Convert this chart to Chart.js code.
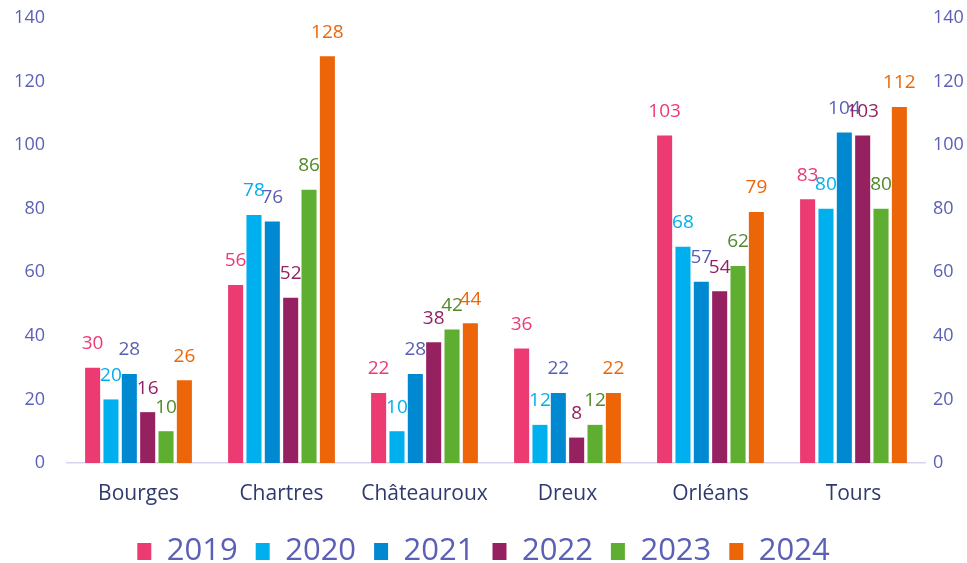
<!DOCTYPE html>
<html>
<head>
<meta charset="utf-8">
<script src="https://cdn.jsdelivr.net/npm/chart.js@4"></script>
<style>
  html, body { margin: 0; padding: 0; background: #fff; }
  #wrap { width: 967px; height: 563px; }
</style>
</head>
<body>
<div id="wrap"><canvas id="myChart"></canvas></div>
<script>
const cities = ["Bourges", "Chartres", "Châteauroux", "Dreux", "Orléans", "Tours"];
const years = ["2019", "2020", "2021", "2022", "2023", "2024"];

const values2019 = [30, 56, 22, 36, 103, 83];
const values2020 = [20, 78, 10, 12, 68, 80];
const values2021 = [28, 76, 28, 22, 57, 104];
const values2022 = [16, 52, 38, 8, 54, 103];
const values2023 = [10, 86, 42, 12, 62, 80];
const values2024 = [26, 128, 44, 22, 79, 112];

const barColors = ["#ec3a72", "#00b0ee", "#0088d0", "#962160", "#5dae31", "#ec6609"];
const labelColors = ["#ec3a72", "#00b0ee", "#5a5fb4", "#962162", "#4f8a2b", "#ec6609"];

const tickColor = "#5b60b6";
const fontFamily = "'Open Sans', 'Noto Sans', sans-serif";

// draw the value above every bar
const valueLabels = {
  id: "valueLabels",
  afterDatasetsDraw(chart) {
    const ctx = chart.ctx;
    ctx.save();
    ctx.font = "19px " + fontFamily;
    ctx.textAlign = "center";
    ctx.textBaseline = "middle";
    chart.data.datasets.forEach((ds, i) => {
      const meta = chart.getDatasetMeta(i);
      ctx.fillStyle = labelColors[i];
      meta.data.forEach((bar, j) => {
        ctx.fillText(ds.data[j], bar.x, bar.y - 24);
      });
    });
    ctx.restore();
  },
};

const allValues = [values2019, values2020, values2021, values2022, values2023, values2024];

// fixed axis sizes so the plot area lands where the original has it
function fitSide(width) {
  return (scale) => {
    scale.width = width;
    scale.paddingTop = 0;
    scale.paddingBottom = 0;
  };
}

new Chart(document.getElementById("myChart"), {
  type: "bar",
  data: {
    labels: cities,
    datasets: years.map((y, i) => ({
      label: y,
      data: allValues[i],
      backgroundColor: barColors[i],
      borderWidth: 0,
      categoryPercentage: 0.77,
      barPercentage: 0.82,
    })),
  },
  options: {
    responsive: true,
    maintainAspectRatio: false,
    animation: false,
    layout: { padding: { top: 18, left: 0, right: 0, bottom: -14 } },
    plugins: {
      tooltip: { enabled: false },
      legend: {
        position: "bottom",
        labels: {
          color: tickColor,
          font: { size: 31, family: fontFamily },
          boxWidth: 14,
          boxHeight: 17,
          padding: 18,
        },
      },
    },
    scales: {
      x: {
        grid: { display: false, drawTicks: false },
        border: { color: "#d3d6ee", width: 1.5 },
        ticks: { color: "#2e3a6e", font: { size: 21, family: fontFamily }, padding: 18 },
        afterFit: (scale) => { scale.height = 55; },
      },
      y: {
        position: "left",
        min: 0,
        max: 140,
        grid: { display: false },
        border: { display: false },
        ticks: { stepSize: 20, color: tickColor, font: { size: 18, family: fontFamily }, padding: 14 },
        afterFit: fitSide(67),
      },
      y2: {
        position: "right",
        min: 0,
        max: 140,
        grid: { display: false },
        border: { display: false },
        ticks: { stepSize: 20, color: tickColor, font: { size: 18, family: fontFamily }, padding: 0 },
        afterFit: fitSide(42),
      },
    },
  },
  plugins: [valueLabels],
});
</script>
</body>
</html>
